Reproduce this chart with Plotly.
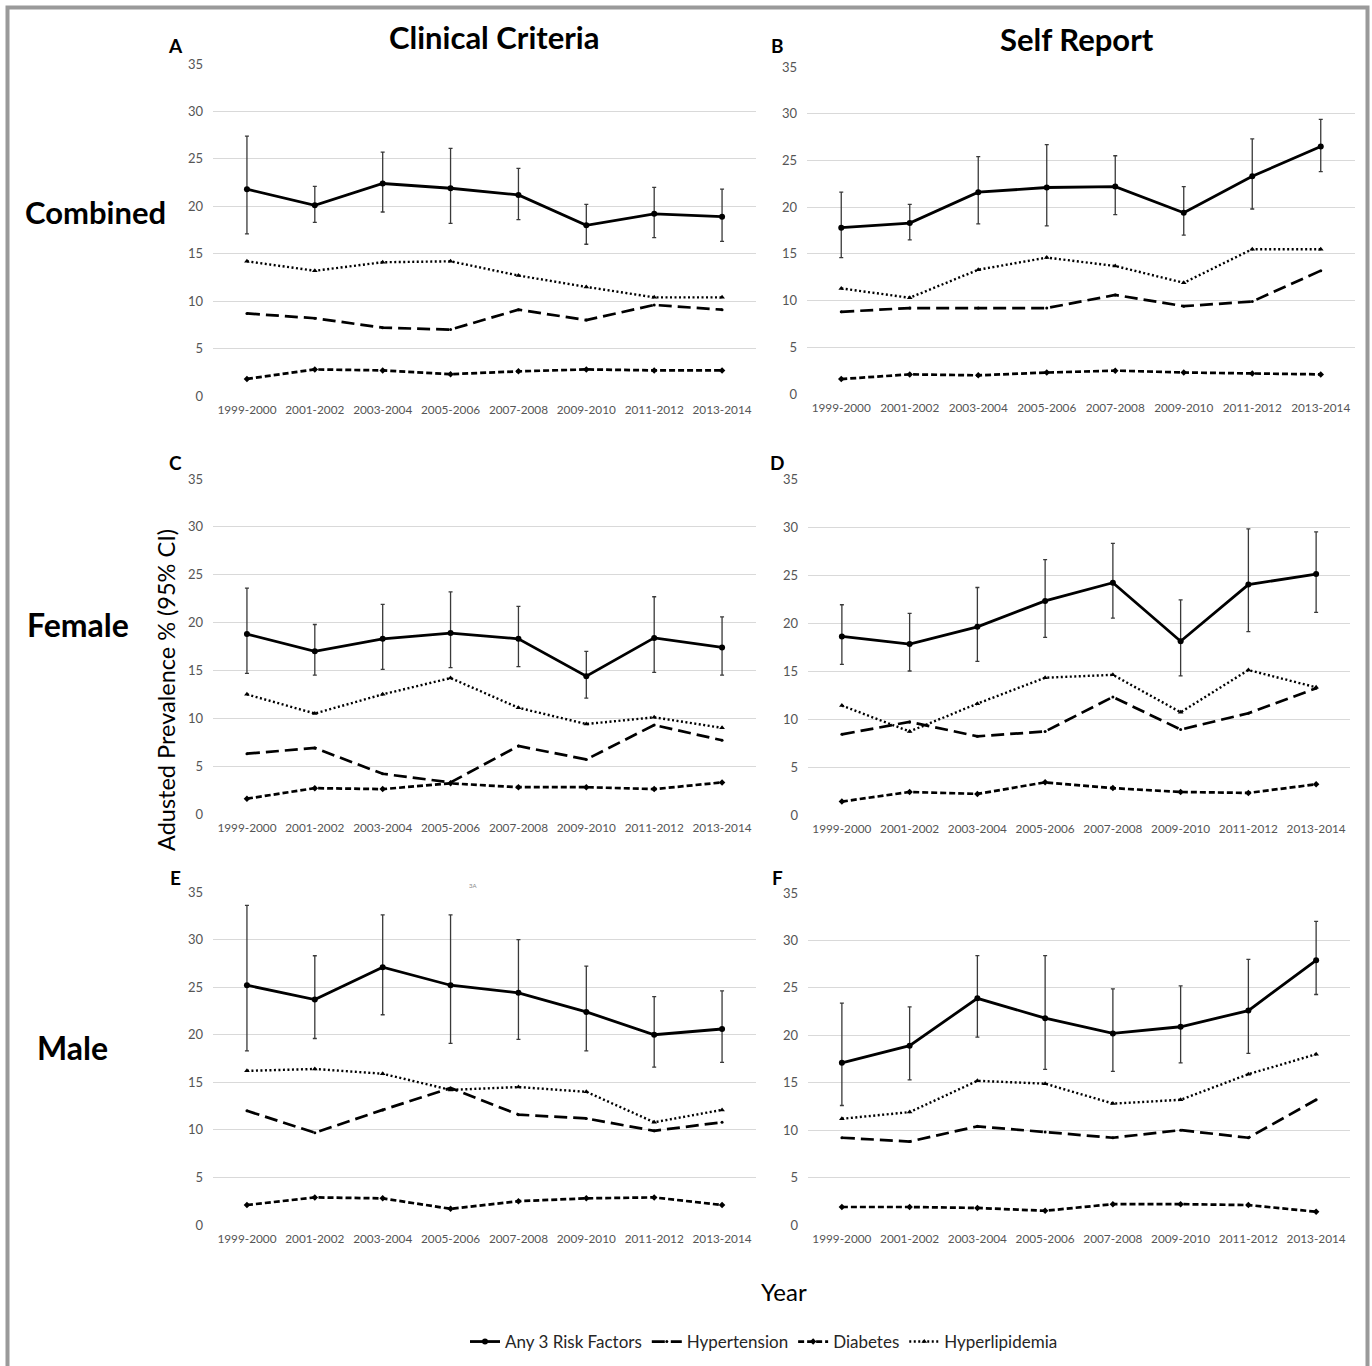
import plotly.graph_objects as go

W, H = 1372, 1366

periods = ["1999-2000", "2001-2002", "2003-2004", "2005-2006",
           "2007-2008", "2009-2010", "2011-2012", "2013-2014"]
y_ticks = [0, 5, 10, 15, 20, 25, 30, 35]

series_names = ["Any 3 Risk Factors", "Hypertension", "Diabetes", "Hyperlipidemia"]

# Panel A: Combined, clinical criteria
a_any3 = [21.8, 20.1, 22.4, 21.9, 21.2, 18.0, 19.2, 18.9]
a_any3_lo = [17.1, 18.3, 19.4, 18.2, 18.6, 16.0, 16.7, 16.3]
a_any3_hi = [27.4, 22.1, 25.7, 26.1, 24.0, 20.2, 22.0, 21.8]
a_htn = [8.7, 8.2, 7.2, 7.0, 9.1, 8.0, 9.6, 9.1]
a_dm = [1.8, 2.8, 2.7, 2.3, 2.6, 2.8, 2.7, 2.7]
a_hld = [14.2, 13.2, 14.1, 14.2, 12.7, 11.5, 10.4, 10.4]

# Panel B: Combined, self report
b_any3 = [17.8, 18.3, 21.6, 22.1, 22.2, 19.4, 23.3, 26.5]
b_any3_lo = [14.6, 16.5, 18.2, 18.0, 19.2, 17.0, 19.8, 23.8]
b_any3_hi = [21.6, 20.3, 25.4, 26.7, 25.5, 22.2, 27.3, 29.4]
b_htn = [8.8, 9.2, 9.2, 9.2, 10.6, 9.4, 9.9, 13.2]
b_dm = [1.6, 2.1, 2.0, 2.3, 2.5, 2.3, 2.2, 2.1]
b_hld = [11.3, 10.3, 13.3, 14.6, 13.7, 11.9, 15.5, 15.5]

# Panel C: Female, clinical criteria
c_any3 = [18.8, 17.0, 18.3, 18.9, 18.3, 14.4, 18.4, 17.4]
c_any3_lo = [14.7, 14.5, 15.1, 15.3, 15.4, 12.1, 14.8, 14.5]
c_any3_hi = [23.6, 19.8, 21.9, 23.2, 21.7, 17.0, 22.7, 20.6]
c_htn = [6.3, 6.9, 4.2, 3.3, 7.1, 5.7, 9.3, 7.7]
c_dm = [1.6, 2.7, 2.6, 3.2, 2.8, 2.8, 2.6, 3.3]
c_hld = [12.5, 10.5, 12.5, 14.2, 11.1, 9.4, 10.1, 9.0]

# Panel D: Female, self report
d_any3 = [18.6, 17.8, 19.6, 22.3, 24.2, 18.1, 24.0, 25.1]
d_any3_lo = [15.7, 15.0, 16.0, 18.5, 20.5, 14.5, 19.1, 21.1]
d_any3_hi = [21.9, 21.0, 23.7, 26.6, 28.3, 22.4, 29.8, 29.5]
d_htn = [8.4, 9.7, 8.2, 8.7, 12.3, 8.9, 10.6, 13.2]
d_dm = [1.4, 2.4, 2.2, 3.4, 2.8, 2.4, 2.3, 3.2]
d_hld = [11.4, 8.7, 11.6, 14.3, 14.6, 10.7, 15.1, 13.3]

# Panel E: Male, clinical criteria
e_any3 = [25.2, 23.7, 27.1, 25.2, 24.4, 22.4, 20.0, 20.6]
e_any3_lo = [18.3, 19.6, 22.1, 19.1, 19.5, 18.3, 16.6, 17.1]
e_any3_hi = [33.6, 28.3, 32.6, 32.6, 30.0, 27.2, 24.0, 24.6]
e_htn = [12.0, 9.7, 12.1, 14.4, 11.6, 11.2, 9.9, 10.8]
e_dm = [2.1, 2.9, 2.8, 1.7, 2.5, 2.8, 2.9, 2.1]
e_hld = [16.2, 16.4, 15.9, 14.2, 14.5, 14.0, 10.8, 12.1]

# Panel F: Male, self report
f_any3 = [17.1, 18.9, 23.9, 21.8, 20.2, 20.9, 22.6, 27.9]
f_any3_lo = [12.6, 15.3, 19.8, 16.4, 16.2, 17.1, 18.1, 24.3]
f_any3_hi = [23.4, 23.0, 28.4, 28.4, 24.9, 25.2, 28.0, 32.0]
f_htn = [9.2, 8.8, 10.4, 9.8, 9.2, 10.0, 9.2, 13.2]
f_dm = [1.9, 1.9, 1.8, 1.5, 2.2, 2.2, 2.1, 1.4]
f_hld = [11.2, 11.9, 15.2, 14.9, 12.8, 13.2, 15.9, 18.0]

panels = [
    ("A", a_any3, a_any3_lo, a_any3_hi, a_htn, a_dm, a_hld),
    ("B", b_any3, b_any3_lo, b_any3_hi, b_htn, b_dm, b_hld),
    ("C", c_any3, c_any3_lo, c_any3_hi, c_htn, c_dm, c_hld),
    ("D", d_any3, d_any3_lo, d_any3_hi, d_htn, d_dm, d_hld),
    ("E", e_any3, e_any3_lo, e_any3_hi, e_htn, e_dm, e_hld),
    ("F", f_any3, f_any3_lo, f_any3_hi, f_htn, f_dm, f_hld),
]

# pixel geometry of each plot area: left, right, top, bottom
geom = [
    (213, 756, 64, 396),
    (807, 1355, 67, 394),
    (213, 756, 479, 814),
    (808, 1350, 479, 815),
    (213, 756, 892, 1225),
    (808, 1350, 893, 1225),
]

FONT = "Lato, 'Open Sans', sans-serif"
TICK_COLOR = "#555555"
GRID = "#d9d9d9"

styles = [
    dict(dash="solid", width=2.8, symbol="circle", size=6),
    dict(dash="13px,6px", width=2.7, symbol="circle", size=3),
    dict(dash="6px,3px", width=2.7, symbol="diamond", size=5),
    dict(dash="2px,2.5px", width=2.4, symbol="triangle-up", size=5),
]

fig = go.Figure()
layout = {}

for i, (letter, any3, lo, hi, htn, dm, hld) in enumerate(panels):
    k = "" if i == 0 else str(i + 1)
    xa, ya = "x" + k, "y" + k
    l, r, t, b = geom[i]
    layout["xaxis" + k] = dict(
        domain=[l / W, r / W], anchor=ya, type="category",
        range=[-0.5, len(periods) - 0.5], showgrid=False, showline=False,
        zeroline=False, ticks="", tickfont=dict(size=11.8, color=TICK_COLOR, family=FONT),
        ticklabelstandoff=5, fixedrange=True, automargin=False,
    )
    layout["yaxis" + k] = dict(
        domain=[1 - b / H, 1 - t / H], anchor=xa, range=[0, 35],
        tickvals=y_ticks, showgrid=True, gridcolor=GRID, gridwidth=1,
        zeroline=False, showline=False, ticks="",
        tickfont=dict(size=13, color=TICK_COLOR, family=FONT),
        ticklabelstandoff=9, fixedrange=True, automargin=False,
    )
    vals = [any3, htn, dm, hld]
    for j, (name, v) in enumerate(zip(series_names, vals)):
        st = styles[j]
        kw = {}
        if j == 0:
            kw["error_y"] = dict(
                type="data", symmetric=False,
                array=[h - m for h, m in zip(hi, any3)],
                arrayminus=[m - q for m, q in zip(any3, lo)],
                color="#3a3a3a", thickness=1.3, width=2,
            )
        fig.add_trace(go.Scatter(
            x=periods, y=v, name=name, mode="lines+markers",
            line=dict(color="black", width=st["width"], dash=st["dash"]),
            marker=dict(color="black", symbol=st["symbol"], size=st["size"]),
            xaxis=xa, yaxis=ya, showlegend=(i == 0), legendgroup=name,
            cliponaxis=False, **kw,
        ))

annotations = []


def txt(text, px, py, size, bold=False, color="black", xanchor="center", angle=0):
    annotations.append(dict(
        text=("<b>%s</b>" % text) if bold else text, x=px / W, y=1 - py / H,
        xref="paper", yref="paper", showarrow=False, xanchor=xanchor,
        yanchor="middle", textangle=angle,
        font=dict(size=size, color=color, family=FONT),
    ))


txt("Clinical Criteria", 494, 37, 31, bold=True)
txt("Self Report", 1077, 39, 31, bold=True)
txt("Combined", 95, 212, 31, bold=True)
txt("Female", 78, 624, 32, bold=True)
txt("Male", 72, 1047, 32, bold=True)
for letter, (px, py) in zip("ABCDEF", [(175, 46), (777, 46), (175, 462),
                                      (777, 462), (175, 877), (777, 877)]):
    txt(letter, px, py, 19, bold=True)
txt("Adusted Prevalence % (95% CI)", 166, 690, 23.5, angle=-90)
txt("Year", 784, 1291, 24)
txt("3A", 473, 885, 6, color="#888888")

layout.update(
    template="none",
    width=W, height=H, autosize=False,
    margin=dict(l=0, r=0, t=0, b=0, pad=0, autoexpand=False),
    paper_bgcolor="white", plot_bgcolor="white",
    font=dict(family=FONT, color="black"),
    annotations=annotations,
    showlegend=True,
    legend=dict(
        orientation="h", x=764 / W, y=1 - 1342 / H, xanchor="center",
        yanchor="middle", font=dict(size=17, color="#262626", family=FONT),
        itemwidth=30, tracegroupgap=0, bgcolor="rgba(0,0,0,0)",
    ),
    shapes=[dict(
        type="rect", xref="paper", yref="paper",
        x0=7.5 / W, x1=1367.5 / W, y0=-0.02, y1=1 - 7.5 / H,
        line=dict(color="#9a9a9a", width=4), fillcolor="rgba(0,0,0,0)",
    )],
)

fig.update_layout(**layout)
fig.write_html(
    "out.html",
    config={"displayModeBar": False},
    post_script="document.body.style.margin='0';document.body.style.padding='0';"
                "document.body.style.overflow='hidden';",
)
